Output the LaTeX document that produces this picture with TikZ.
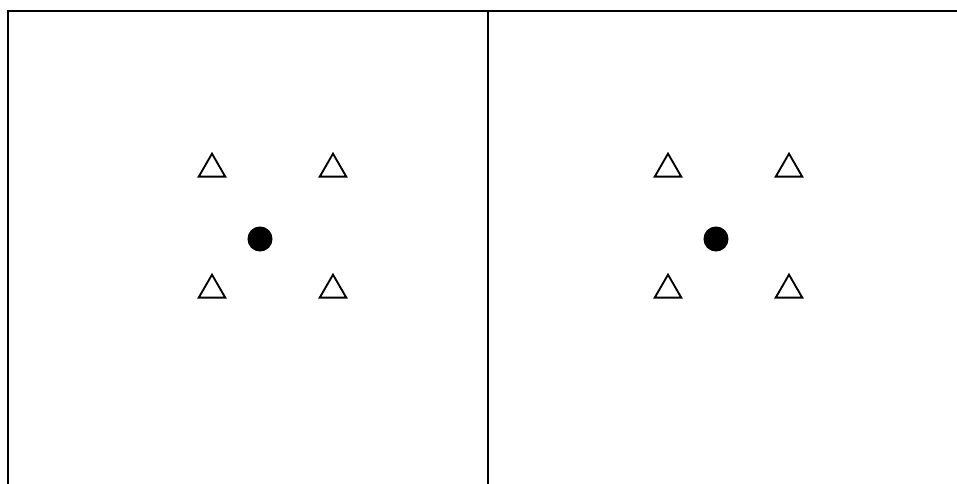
\documentclass[tikz,border=0pt]{standalone}
\usepackage{tikz}
\usetikzlibrary{shapes.geometric}

\begin{document}
\begin{tikzpicture}[x=0.75pt,y=-0.75pt,
    tri/.style={draw,regular polygon,regular polygon sides=3,line width=1.4pt,minimum size=23pt,inner sep=0pt},
    dot/.style={circle,fill=black,minimum size=18.8pt,inner sep=0pt}]
  \useasboundingbox (0,0) rectangle (957,484);

  % frame
  \draw[line width=1.6pt] (8,484) -- (8,11) -- (957,11);
  \draw[line width=1.5pt] (488,11) -- (488,484);

  % left panel
  \node[tri] (L1) at (212,169) {};
  \node[tri] (L2) at (333,169) {};
  \node[tri] (L3) at (212,290) {};
  \node[tri] (L4) at (333,290) {};
  \node[dot] (Ld) at (260,239) {};

  % right panel
  \node[tri] (R1) at (668,169) {};
  \node[tri] (R2) at (789,169) {};
  \node[tri] (R3) at (668,290) {};
  \node[tri] (R4) at (789,290) {};
  \node[dot] (Rd) at (716,239) {};
\end{tikzpicture}
\end{document}
